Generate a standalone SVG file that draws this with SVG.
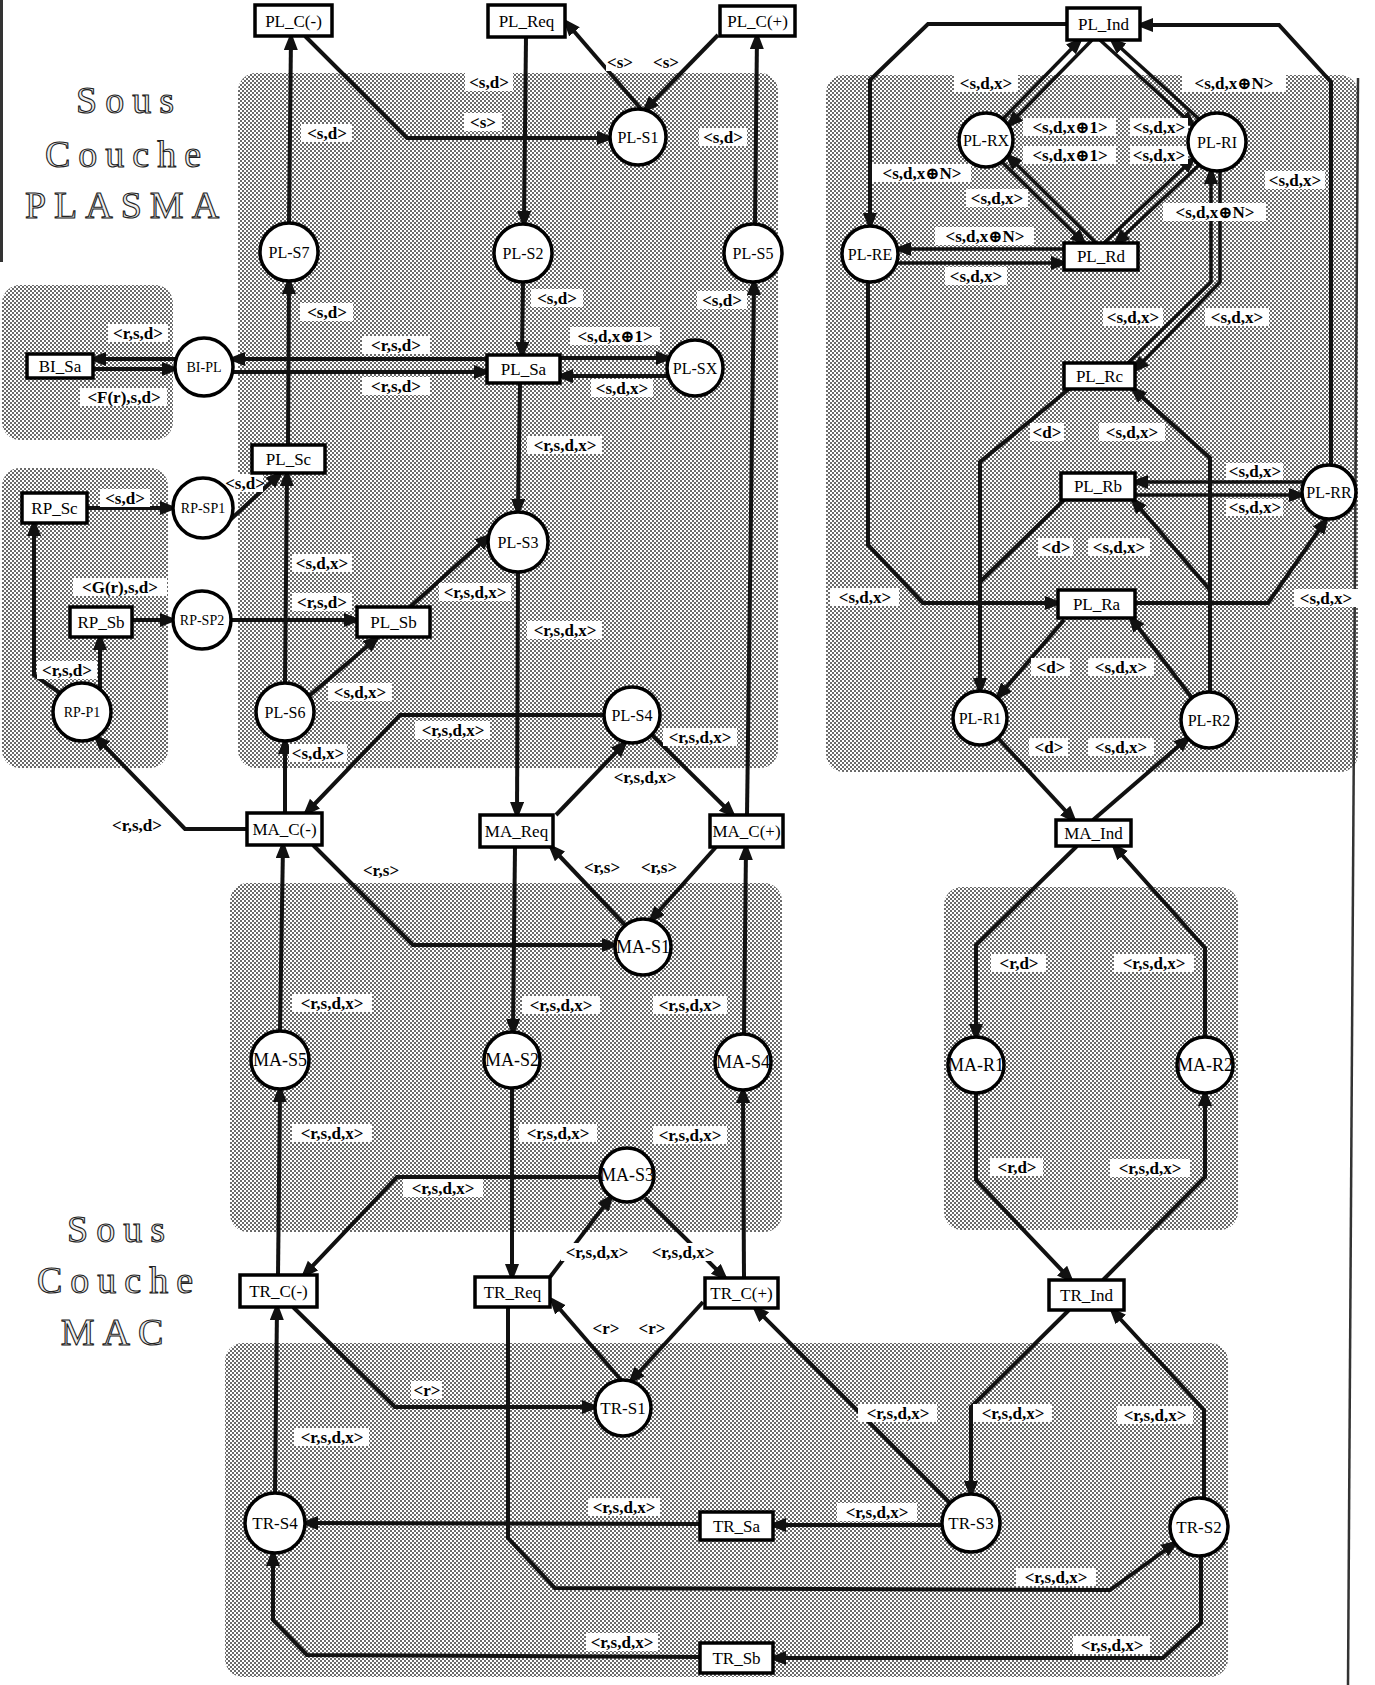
<svg xmlns="http://www.w3.org/2000/svg" width="1375" height="1685" viewBox="0 0 1375 1685">
<defs>
<pattern id="dot" width="4" height="4" patternUnits="userSpaceOnUse"><rect width="4" height="4" fill="#fff"/><rect width="2" height="2" fill="#6a6a6a"/><rect x="2" y="2" width="2" height="2" fill="#6a6a6a"/></pattern>
<marker id="ar" markerUnits="userSpaceOnUse" markerWidth="20" markerHeight="16" refX="13" refY="7" orient="auto"><path d="M0,0 L18,7 L0,14 z" fill="#111"/></marker>
<style>
.reg{fill:url(#dot)}
.c{fill:#fff;stroke:#000;stroke-width:3.5}
.b{fill:#fff;stroke:#000;stroke-width:3.5}
.t{font-family:"Liberation Serif","Times New Roman",serif;font-size:16px;text-anchor:middle;fill:#000}
.bt{font-size:17px}
.sm{font-size:14px}
.ma{font-size:18px}
.tr{font-size:17px}
.e{fill:none;stroke:#111;stroke-width:4;marker-end:url(#ar)}
.d{fill:none;stroke:#111;stroke-width:3.5;marker-end:url(#ar)}
.n{fill:none;stroke:#111;stroke-width:4}
.lb rect{fill:#fff}
.lb text{font-family:"Liberation Serif","DejaVu Serif",serif;font-size:17px;font-weight:bold;text-anchor:middle;fill:#000}
.big{font-family:"Liberation Serif","Times New Roman",serif;font-size:38px;letter-spacing:8px;fill:#eee;stroke:#222;stroke-width:1.1;text-anchor:middle}
.edge{stroke:#333;fill:none}
</style>
</defs>
<rect width="1375" height="1685" fill="#fff"/>
<g id="regions">
<rect class="reg" x="238" y="73" width="540" height="695" rx="18"/>
<rect class="reg" x="2" y="285" width="171" height="155" rx="18"/>
<rect class="reg" x="2" y="468" width="166" height="300" rx="18"/>
<rect class="reg" x="826" y="75" width="532" height="697" rx="18"/>
<rect class="reg" x="230" y="883" width="552" height="349" rx="18"/>
<rect class="reg" x="944" y="887" width="294" height="343" rx="18"/>
<rect class="reg" x="225" y="1343" width="1003" height="334" rx="18"/>
</g>
<g id="page-edges">
<line class="edge" x1="1.5" y1="0" x2="1.5" y2="262" stroke-width="3"/>
<line class="edge" x1="1358" y1="78" x2="1348" y2="1685" stroke-width="2.5"/>
</g>
<g id="titles">
<text class="big" x="129" y="113">Sous</text>
<text class="big" x="127" y="167">Couche</text>
<text class="big" x="126" y="218">PLASMA</text>
<text class="big" x="120" y="1242">Sous</text>
<text class="big" x="119" y="1293">Couche</text>
<text class="big" x="116" y="1345">MAC</text>
</g>
<g id="connectors">
<path class="e" d="M289,223 L291,37"/>
<path class="e" d="M288,445 L289,281"/>
<path class="e" d="M305,36 L407,138 L610,138"/>
<path class="e" d="M641,109 L566,22"/>
<path class="e" d="M718,35 L645,110"/>
<path class="e" d="M526,37 L524,224"/>
<path class="e" d="M523,282 L522,355"/>
<path class="e" d="M755,224 L757,36"/>
<path class="e" d="M747,815 L754,282"/>
<path class="e" d="M560,358 L669,358"/>
<path class="e" d="M668,376 L560,376"/>
<path class="e" d="M487,359 L232,359"/>
<path class="e" d="M232,372 L487,372"/>
<path class="e" d="M176,359 L93,359"/>
<path class="e" d="M93,369 L175,369"/>
<path class="e" d="M520,383 L518,512"/>
<path class="e" d="M518,572 L517,815"/>
<path class="e" d="M410,607 L489,536"/>
<path class="e" d="M309,696 L377,638"/>
<path class="e" d="M285,683 L287,473"/>
<path class="e" d="M231,620 L357,620"/>
<path class="e" d="M132,620 L173,620"/>
<path class="e" d="M87,508 L173,508"/>
<path class="e" d="M230,520 L280,474"/>
<path class="e" d="M60,693 L34,675 L34,523"/>
<path class="e" d="M100,689 L100,637"/>
<path class="e" d="M247,829 L185,829 L96,737"/>
<path class="e" d="M285,813 L285,741"/>
<path class="e" d="M604,715 L400,715 L306,813"/>
<path class="e" d="M652,735 L733,815"/>
<path class="e" d="M556,815 L625,743"/>
<path class="e" d="M1067,24 L928,24 L870,80 L870,226"/>
<path class="e" d="M1331,465 L1331,82 L1279,25 L1140,25"/>
<path class="d" d="M1003,119 L1080,40"/>
<path class="d" d="M1092,40 L1009,125"/>
<path class="d" d="M1199,119 L1112,40"/>
<path class="d" d="M1100,40 L1193,125"/>
<path class="d" d="M1096,243 L1008,156"/>
<path class="d" d="M1002,162 L1084,243"/>
<path class="d" d="M1104,243 L1193,159"/>
<path class="d" d="M1199,165 L1116,243"/>
<path class="d" d="M1064,249 L898,249"/>
<path class="d" d="M897,263 L1064,263"/>
<path class="d" d="M1128,363 L1211,282 L1211,171"/>
<path class="d" d="M1220,171 L1220,282 L1135,370"/>
<path class="e" d="M1069,389 L980,462 L980,691"/>
<path class="n" d="M1064,500 L980,582"/>
<path class="e" d="M1210,692 L1210,458 L1133,389"/>
<path class="e" d="M1210,590 L1133,500"/>
<path class="e" d="M868,282 L868,545 L923,603 L1058,603"/>
<path class="e" d="M1135,603 L1268,603 L1326,520"/>
<path class="d" d="M1304,482 L1135,482"/>
<path class="d" d="M1135,495 L1302,495"/>
<path class="e" d="M1064,620 L998,697"/>
<path class="e" d="M1192,698 L1131,618"/>
<path class="e" d="M998,738 L1074,820"/>
<path class="e" d="M1093,820 L1188,738"/>
<path class="e" d="M313,845 L413,945 L615,945"/>
<path class="e" d="M625,925 L551,847"/>
<path class="e" d="M716,847 L651,920"/>
<path class="e" d="M515,847 L513,1032"/>
<path class="e" d="M280,1031 L283,845"/>
<path class="e" d="M278,1275 L280,1089"/>
<path class="e" d="M744,1034 L746,847"/>
<path class="e" d="M744,1278 L743,1090"/>
<path class="e" d="M512,1088 L512,1277"/>
<path class="e" d="M600,1177 L397,1177 L304,1275"/>
<path class="e" d="M550,1277 L611,1197"/>
<path class="e" d="M645,1198 L725,1278"/>
<path class="e" d="M1077,846 L976,945 L976,1037"/>
<path class="e" d="M1205,1037 L1205,948 L1114,846"/>
<path class="e" d="M976,1093 L976,1180 L1071,1280"/>
<path class="e" d="M1103,1280 L1205,1177 L1205,1093"/>
<path class="e" d="M275,1493 L277,1307"/>
<path class="e" d="M293,1307 L395,1407 L595,1407"/>
<path class="e" d="M621,1380 L552,1300"/>
<path class="e" d="M703,1302 L631,1381"/>
<path class="e" d="M950,1503 L755,1308"/>
<path class="e" d="M1069,1310 L971,1407 L971,1494"/>
<path class="e" d="M1204,1499 L1204,1410 L1112,1310"/>
<path class="e" d="M942,1525 L773,1525"/>
<path class="e" d="M700,1524 L305,1523"/>
<path class="e" d="M508,1307 L508,1538 L555,1588 L1110,1590 L1175,1543"/>
<path class="e" d="M1201,1556 L1201,1623 L1163,1658 L773,1658"/>
<path class="e" d="M700,1657 L307,1655 L273,1620 L273,1553"/>
</g>
<g id="labels">
<g class="lb"><rect x="301" y="124" width="51" height="18"/><text x="327" y="139">&lt;s,d&gt;</text></g>
<g class="lb"><rect x="300" y="303" width="53" height="18"/><text x="327" y="318">&lt;s,d&gt;</text></g>
<g class="lb"><rect x="108" y="324" width="60" height="18"/><text x="138" y="339">&lt;r,s,d&gt;</text></g>
<g class="lb"><rect x="80" y="388" width="87" height="18"/><text x="124" y="403">&lt;F(r),s,d&gt;</text></g>
<g class="lb"><rect x="362" y="336" width="68" height="18"/><text x="396" y="351">&lt;r,s,d&gt;</text></g>
<g class="lb"><rect x="362" y="377" width="68" height="18"/><text x="396" y="392">&lt;r,s,d&gt;</text></g>
<g class="lb"><rect x="465" y="73" width="48" height="18"/><text x="489" y="88">&lt;s,d&gt;</text></g>
<g class="lb"><rect x="464" y="113" width="38" height="18"/><text x="483" y="128">&lt;s&gt;</text></g>
<g class="lb"><rect x="606" y="53" width="28" height="18"/><text x="620" y="68">&lt;s&gt;</text></g>
<g class="lb"><rect x="652" y="53" width="28" height="18"/><text x="666" y="68">&lt;s&gt;</text></g>
<g class="lb"><rect x="699" y="128" width="48" height="18"/><text x="723" y="143">&lt;s,d&gt;</text></g>
<g class="lb"><rect x="697" y="291" width="50" height="18"/><text x="722" y="306">&lt;s,d&gt;</text></g>
<g class="lb"><rect x="531" y="289" width="52" height="18"/><text x="557" y="304">&lt;s,d&gt;</text></g>
<g class="lb"><rect x="570" y="327" width="90" height="18"/><text x="615" y="342">&lt;s,d,x⊕1&gt;</text></g>
<g class="lb"><rect x="591" y="379" width="62" height="18"/><text x="622" y="394">&lt;s,d,x&gt;</text></g>
<g class="lb"><rect x="527" y="436" width="75" height="18"/><text x="565" y="451">&lt;r,s,d,x&gt;</text></g>
<g class="lb"><rect x="100" y="489" width="50" height="18"/><text x="125" y="504">&lt;s,d&gt;</text></g>
<g class="lb"><rect x="223" y="474" width="40" height="18"/><text x="245" y="489">&lt;s,d&gt;</text></g>
<g class="lb"><rect x="292" y="554" width="60" height="18"/><text x="322" y="569">&lt;s,d,x&gt;</text></g>
<g class="lb"><rect x="73" y="578" width="94" height="18"/><text x="120" y="593">&lt;G(r),s,d&gt;</text></g>
<g class="lb"><rect x="292" y="593" width="60" height="18"/><text x="322" y="608">&lt;r,s,d&gt;</text></g>
<g class="lb"><rect x="439" y="583" width="72" height="18"/><text x="475" y="598">&lt;r,s,d,x&gt;</text></g>
<g class="lb"><rect x="527" y="621" width="75" height="18"/><text x="565" y="636">&lt;r,s,d,x&gt;</text></g>
<g class="lb"><rect x="37" y="661" width="60" height="18"/><text x="67" y="676">&lt;r,s,d&gt;</text></g>
<g class="lb"><rect x="328" y="683" width="64" height="18"/><text x="360" y="698">&lt;s,d,x&gt;</text></g>
<g class="lb"><rect x="415" y="721" width="75" height="18"/><text x="453" y="736">&lt;r,s,d,x&gt;</text></g>
<g class="lb"><rect x="289" y="744" width="58" height="18"/><text x="318" y="759">&lt;s,d,x&gt;</text></g>
<g class="lb"><rect x="663" y="728" width="74" height="18"/><text x="700" y="743">&lt;r,s,d,x&gt;</text></g>
<g class="lb"><rect x="609" y="768" width="72" height="18"/><text x="645" y="783">&lt;r,s,d,x&gt;</text></g>
<g class="lb"><rect x="109" y="816" width="56" height="18"/><text x="137" y="831">&lt;r,s,d&gt;</text></g>
<g class="lb"><rect x="954" y="74" width="64" height="18"/><text x="986" y="89">&lt;s,d,x&gt;</text></g>
<g class="lb"><rect x="1182" y="74" width="104" height="18"/><text x="1234" y="89">&lt;s,d,x⊕N&gt;</text></g>
<g class="lb"><rect x="1023" y="118" width="93" height="18"/><text x="1070" y="133">&lt;s,d,x⊕1&gt;</text></g>
<g class="lb"><rect x="1130" y="118" width="58" height="18"/><text x="1159" y="133">&lt;s,d,x&gt;</text></g>
<g class="lb"><rect x="1023" y="146" width="93" height="18"/><text x="1070" y="161">&lt;s,d,x⊕1&gt;</text></g>
<g class="lb"><rect x="1130" y="146" width="58" height="18"/><text x="1159" y="161">&lt;s,d,x&gt;</text></g>
<g class="lb"><rect x="872" y="164" width="99" height="18"/><text x="922" y="179">&lt;s,d,x⊕N&gt;</text></g>
<g class="lb"><rect x="966" y="189" width="62" height="18"/><text x="997" y="204">&lt;s,d,x&gt;</text></g>
<g class="lb"><rect x="1265" y="171" width="60" height="18"/><text x="1295" y="186">&lt;s,d,x&gt;</text></g>
<g class="lb"><rect x="1163" y="203" width="103" height="18"/><text x="1215" y="218">&lt;s,d,x⊕N&gt;</text></g>
<g class="lb"><rect x="935" y="227" width="99" height="18"/><text x="985" y="242">&lt;s,d,x⊕N&gt;</text></g>
<g class="lb"><rect x="945" y="267" width="62" height="18"/><text x="976" y="282">&lt;s,d,x&gt;</text></g>
<g class="lb"><rect x="1103" y="308" width="60" height="18"/><text x="1133" y="323">&lt;s,d,x&gt;</text></g>
<g class="lb"><rect x="1205" y="308" width="64" height="18"/><text x="1237" y="323">&lt;s,d,x&gt;</text></g>
<g class="lb"><rect x="1030" y="423" width="34" height="18"/><text x="1047" y="438">&lt;d&gt;</text></g>
<g class="lb"><rect x="1099" y="423" width="66" height="18"/><text x="1132" y="438">&lt;s,d,x&gt;</text></g>
<g class="lb"><rect x="1226" y="463" width="57" height="17"/><text x="1255" y="477">&lt;s,d,x&gt;</text></g>
<g class="lb"><rect x="1226" y="499" width="57" height="17"/><text x="1255" y="513">&lt;s,d,x&gt;</text></g>
<g class="lb"><rect x="1038" y="538" width="35" height="18"/><text x="1056" y="553">&lt;d&gt;</text></g>
<g class="lb"><rect x="1088" y="538" width="62" height="18"/><text x="1119" y="553">&lt;s,d,x&gt;</text></g>
<g class="lb"><rect x="830" y="588" width="69" height="18"/><text x="865" y="603">&lt;s,d,x&gt;</text></g>
<g class="lb"><rect x="1294" y="589" width="64" height="18"/><text x="1326" y="604">&lt;s,d,x&gt;</text></g>
<g class="lb"><rect x="1031" y="658" width="39" height="18"/><text x="1051" y="673">&lt;d&gt;</text></g>
<g class="lb"><rect x="1088" y="658" width="66" height="18"/><text x="1121" y="673">&lt;s,d,x&gt;</text></g>
<g class="lb"><rect x="1029" y="738" width="39" height="18"/><text x="1049" y="753">&lt;d&gt;</text></g>
<g class="lb"><rect x="1088" y="738" width="66" height="18"/><text x="1121" y="753">&lt;s,d,x&gt;</text></g>
<g class="lb"><rect x="359" y="861" width="43" height="18"/><text x="381" y="876">&lt;r,s&gt;</text></g>
<g class="lb"><rect x="581" y="858" width="42" height="18"/><text x="602" y="873">&lt;r,s&gt;</text></g>
<g class="lb"><rect x="638" y="858" width="42" height="18"/><text x="659" y="873">&lt;r,s&gt;</text></g>
<g class="lb"><rect x="292" y="994" width="80" height="18"/><text x="332" y="1009">&lt;r,s,d,x&gt;</text></g>
<g class="lb"><rect x="522" y="996" width="78" height="18"/><text x="561" y="1011">&lt;r,s,d,x&gt;</text></g>
<g class="lb"><rect x="653" y="996" width="74" height="18"/><text x="690" y="1011">&lt;r,s,d,x&gt;</text></g>
<g class="lb"><rect x="292" y="1124" width="80" height="18"/><text x="332" y="1139">&lt;r,s,d,x&gt;</text></g>
<g class="lb"><rect x="519" y="1124" width="78" height="18"/><text x="558" y="1139">&lt;r,s,d,x&gt;</text></g>
<g class="lb"><rect x="653" y="1126" width="74" height="18"/><text x="690" y="1141">&lt;r,s,d,x&gt;</text></g>
<g class="lb"><rect x="403" y="1179" width="80" height="18"/><text x="443" y="1194">&lt;r,s,d,x&gt;</text></g>
<g class="lb"><rect x="561" y="1243" width="72" height="18"/><text x="597" y="1258">&lt;r,s,d,x&gt;</text></g>
<g class="lb"><rect x="647" y="1243" width="72" height="18"/><text x="683" y="1258">&lt;r,s,d,x&gt;</text></g>
<g class="lb"><rect x="991" y="954" width="55" height="18"/><text x="1019" y="969">&lt;r,d&gt;</text></g>
<g class="lb"><rect x="1114" y="954" width="80" height="18"/><text x="1154" y="969">&lt;r,s,d,x&gt;</text></g>
<g class="lb"><rect x="990" y="1158" width="53" height="18"/><text x="1017" y="1173">&lt;r,d&gt;</text></g>
<g class="lb"><rect x="1110" y="1159" width="80" height="18"/><text x="1150" y="1174">&lt;r,s,d,x&gt;</text></g>
<g class="lb"><rect x="411" y="1381" width="31" height="18"/><text x="427" y="1396">&lt;r&gt;</text></g>
<g class="lb"><rect x="592" y="1319" width="28" height="18"/><text x="606" y="1334">&lt;r&gt;</text></g>
<g class="lb"><rect x="637" y="1319" width="30" height="18"/><text x="652" y="1334">&lt;r&gt;</text></g>
<g class="lb"><rect x="294" y="1428" width="75" height="18"/><text x="332" y="1443">&lt;r,s,d,x&gt;</text></g>
<g class="lb"><rect x="858" y="1404" width="79" height="18"/><text x="898" y="1419">&lt;r,s,d,x&gt;</text></g>
<g class="lb"><rect x="973" y="1404" width="79" height="18"/><text x="1013" y="1419">&lt;r,s,d,x&gt;</text></g>
<g class="lb"><rect x="1117" y="1406" width="76" height="18"/><text x="1155" y="1421">&lt;r,s,d,x&gt;</text></g>
<g class="lb"><rect x="588" y="1498" width="72" height="18"/><text x="624" y="1513">&lt;r,s,d,x&gt;</text></g>
<g class="lb"><rect x="837" y="1503" width="80" height="18"/><text x="877" y="1518">&lt;r,s,d,x&gt;</text></g>
<g class="lb"><rect x="1016" y="1568" width="80" height="18"/><text x="1056" y="1583">&lt;r,s,d,x&gt;</text></g>
<g class="lb"><rect x="586" y="1633" width="72" height="18"/><text x="622" y="1648">&lt;r,s,d,x&gt;</text></g>
<g class="lb"><rect x="1073" y="1636" width="77" height="18"/><text x="1112" y="1651">&lt;r,s,d,x&gt;</text></g>
</g>
<g id="nodes">
<g id="PL_Cm"><rect class="b" x="255" y="5" width="77" height="31"/><text class="t bt" x="293.5" y="26.5">PL_C(-)</text></g>
<g id="PL_Req"><rect class="b" x="488" y="5" width="77" height="32"/><text class="t bt" x="526.5" y="27">PL_Req</text></g>
<g id="PL_Cp"><rect class="b" x="720" y="6" width="75" height="30"/><text class="t bt" x="757.5" y="27">PL_C(+)</text></g>
<g id="PL_Ind"><rect class="b" x="1067" y="8" width="73" height="32"/><text class="t bt" x="1103.5" y="30">PL_Ind</text></g>
<g id="PL_Rd"><rect class="b" x="1064" y="243" width="74" height="27"/><text class="t bt" x="1101" y="262">PL_Rd</text></g>
<g id="PL_Sa"><rect class="b" x="487" y="355" width="73" height="28"/><text class="t bt" x="523.5" y="375">PL_Sa</text></g>
<g id="PL_Rc"><rect class="b" x="1064" y="363" width="71" height="26"/><text class="t bt" x="1099.5" y="382">PL_Rc</text></g>
<g id="BI_Sa"><rect class="b" x="27" y="354" width="66" height="24"/><text class="t bt" x="60" y="372">BI_Sa</text></g>
<g id="PL_Sc"><rect class="b" x="252" y="445" width="73" height="28"/><text class="t bt" x="288.5" y="465">PL_Sc</text></g>
<g id="RP_Sc"><rect class="b" x="22" y="493" width="65" height="30"/><text class="t bt" x="54.5" y="514">RP_Sc</text></g>
<g id="PL_Rb"><rect class="b" x="1061" y="473" width="74" height="27"/><text class="t bt" x="1098" y="492">PL_Rb</text></g>
<g id="RP_Sb"><rect class="b" x="70" y="607" width="62" height="30"/><text class="t bt" x="101" y="628">RP_Sb</text></g>
<g id="PL_Sb"><rect class="b" x="357" y="607" width="73" height="30"/><text class="t bt" x="393.5" y="628">PL_Sb</text></g>
<g id="PL_Ra"><rect class="b" x="1058" y="590" width="77" height="28"/><text class="t bt" x="1096.5" y="610">PL_Ra</text></g>
<g id="MA_Cm"><rect class="b" x="247" y="813" width="75" height="32"/><text class="t bt" x="284.5" y="835">MA_C(-)</text></g>
<g id="MA_Req"><rect class="b" x="480" y="815" width="73" height="32"/><text class="t bt" x="516.5" y="837">MA_Req</text></g>
<g id="MA_Cp"><rect class="b" x="710" y="815" width="73" height="32"/><text class="t bt" x="746.5" y="837">MA_C(+)</text></g>
<g id="MA_Ind"><rect class="b" x="1056" y="820" width="75" height="26"/><text class="t bt" x="1093.5" y="839">MA_Ind</text></g>
<g id="TR_Cm"><rect class="b" x="240" y="1275" width="77" height="32"/><text class="t bt" x="278.5" y="1297">TR_C(-)</text></g>
<g id="TR_Req"><rect class="b" x="475" y="1277" width="75" height="30"/><text class="t bt" x="512.5" y="1298">TR_Req</text></g>
<g id="TR_Cp"><rect class="b" x="705" y="1278" width="73" height="30"/><text class="t bt" x="741.5" y="1299">TR_C(+)</text></g>
<g id="TR_Ind"><rect class="b" x="1049" y="1280" width="75" height="30"/><text class="t bt" x="1086.5" y="1301">TR_Ind</text></g>
<g id="TR_Sa"><rect class="b" x="700" y="1512" width="73" height="28"/><text class="t bt" x="736.5" y="1532">TR_Sa</text></g>
<g id="TR_Sb"><rect class="b" x="700" y="1643" width="73" height="30"/><text class="t bt" x="736.5" y="1664">TR_Sb</text></g>
<g id="PL-S1"><circle class="c" cx="638" cy="137" r="28"/><text class="t" x="638" y="142.5">PL-S1</text></g>
<g id="PL-S7"><circle class="c" cx="289" cy="252" r="29"/><text class="t" x="289" y="257.5">PL-S7</text></g>
<g id="PL-S2"><circle class="c" cx="523" cy="253" r="29"/><text class="t" x="523" y="258.5">PL-S2</text></g>
<g id="PL-S5"><circle class="c" cx="753" cy="253" r="29"/><text class="t" x="753" y="258.5">PL-S5</text></g>
<g id="PL-RE"><circle class="c" cx="870" cy="254" r="28"/><text class="t" x="870" y="259.5">PL-RE</text></g>
<g id="PL-RX"><circle class="c" cx="986" cy="140" r="27"/><text class="t" x="986" y="145.5">PL-RX</text></g>
<g id="PL-RI"><circle class="c" cx="1217" cy="142" r="29"/><text class="t" x="1217" y="147.5">PL-RI</text></g>
<g id="BI-PL"><circle class="c" cx="204" cy="367" r="29"/><text class="t sm" x="204" y="372">BI-PL</text></g>
<g id="PL-SX"><circle class="c" cx="695" cy="368" r="28"/><text class="t" x="695" y="373.5">PL-SX</text></g>
<g id="RP-SP1"><circle class="c" cx="203" cy="508" r="30"/><text class="t sm" x="203" y="513">RP-SP1</text></g>
<g id="PL-RR"><circle class="c" cx="1329" cy="492" r="27"/><text class="t" x="1329" y="497.5">PL-RR</text></g>
<g id="PL-S3"><circle class="c" cx="518" cy="542" r="30"/><text class="t" x="518" y="547.5">PL-S3</text></g>
<g id="RP-SP2"><circle class="c" cx="202" cy="620" r="29"/><text class="t sm" x="202" y="625">RP-SP2</text></g>
<g id="PL-S6"><circle class="c" cx="285" cy="712" r="29"/><text class="t" x="285" y="717.5">PL-S6</text></g>
<g id="RP-P1"><circle class="c" cx="82" cy="712" r="29"/><text class="t sm" x="82" y="717">RP-P1</text></g>
<g id="PL-S4"><circle class="c" cx="632" cy="715" r="28"/><text class="t" x="632" y="720.5">PL-S4</text></g>
<g id="PL-R1"><circle class="c" cx="980" cy="718" r="27"/><text class="t" x="980" y="723.5">PL-R1</text></g>
<g id="PL-R2"><circle class="c" cx="1209" cy="720" r="28"/><text class="t" x="1209" y="725.5">PL-R2</text></g>
<g id="MA-S1"><circle class="c" cx="643" cy="947" r="28"/><text class="t ma" x="643" y="953">MA-S1</text></g>
<g id="MA-S5"><circle class="c" cx="280" cy="1060" r="29"/><text class="t ma" x="280" y="1066">MA-S5</text></g>
<g id="MA-S2"><circle class="c" cx="512" cy="1060" r="28"/><text class="t ma" x="512" y="1066">MA-S2</text></g>
<g id="MA-S4"><circle class="c" cx="743" cy="1062" r="28"/><text class="t ma" x="743" y="1068">MA-S4</text></g>
<g id="MA-R1"><circle class="c" cx="976" cy="1065" r="28"/><text class="t ma" x="976" y="1071">MA-R1</text></g>
<g id="MA-R2"><circle class="c" cx="1205" cy="1065" r="28"/><text class="t ma" x="1205" y="1071">MA-R2</text></g>
<g id="MA-S3"><circle class="c" cx="627" cy="1175" r="27"/><text class="t ma" x="627" y="1181">MA-S3</text></g>
<g id="TR-S1"><circle class="c" cx="623" cy="1408" r="28"/><text class="t tr" x="623" y="1414">TR-S1</text></g>
<g id="TR-S4"><circle class="c" cx="275" cy="1523" r="30"/><text class="t tr" x="275" y="1529">TR-S4</text></g>
<g id="TR-S3"><circle class="c" cx="971" cy="1523" r="29"/><text class="t tr" x="971" y="1529">TR-S3</text></g>
<g id="TR-S2"><circle class="c" cx="1199" cy="1527" r="29"/><text class="t tr" x="1199" y="1533">TR-S2</text></g>
</g>
</svg>
